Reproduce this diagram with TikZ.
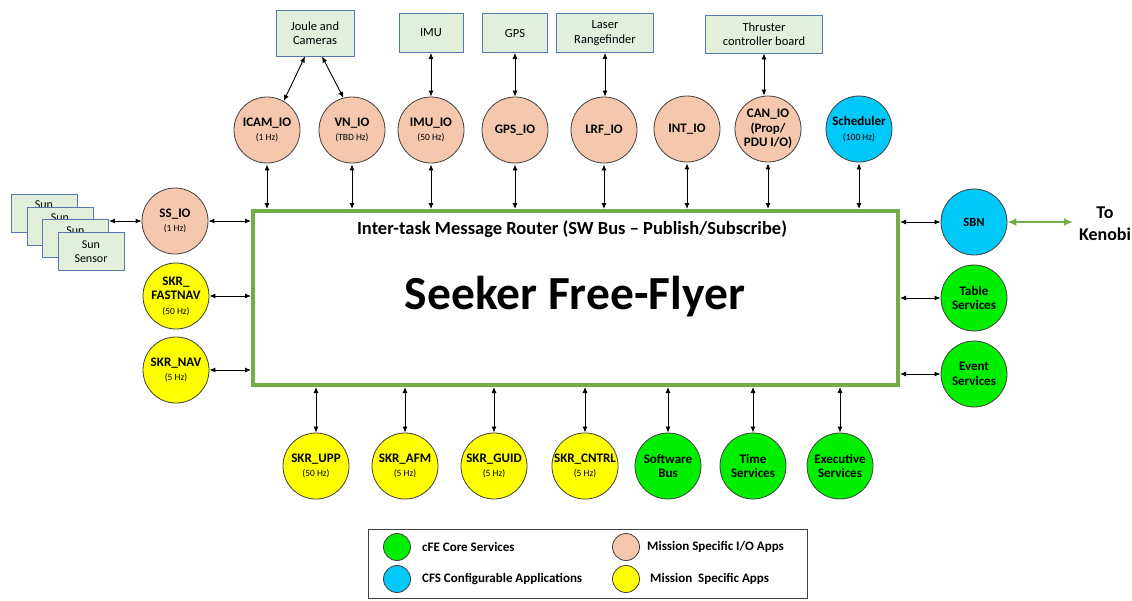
\documentclass[tikz,border=0pt]{standalone}
\usepackage{fontspec}
\setmainfont{Carlito}
\usetikzlibrary{arrows.meta}
\definecolor{peach}{HTML}{F5C8AE}
\definecolor{appyellow}{HTML}{FFFF00}
\definecolor{coregreen}{HTML}{00EE00}
\definecolor{cfsblue}{HTML}{00C8F8}
\definecolor{hwfill}{HTML}{E2EFDA}
\definecolor{hwborder}{HTML}{5479AE}
\definecolor{busgreen}{HTML}{70AD47}
\definecolor{ringgray}{HTML}{404040}
\tikzset{
  app/.style={circle, draw=ringgray, line width=0.8pt, minimum size=66pt, inner sep=0pt, align=center,
    font=\fontsize{13}{14.5}\selectfont\bfseries},
  ioapp/.style={app, fill=peach},
  msapp/.style={app, fill=appyellow},
  coreapp/.style={app, fill=coregreen},
  cfsapp/.style={app, fill=cfsblue},
  hwbox/.style={rectangle, draw=hwborder, fill=hwfill, line width=0.9pt, align=center, inner sep=0pt,
    font=\fontsize{12.5}{14.5}\selectfont},
  sunbox/.style={hwbox, minimum width=66pt, minimum height=38pt, font=\fontsize{12}{14}\selectfont},
  arr/.style={{Latex[length=6pt,width=5pt]}-{Latex[length=6pt,width=5pt]}, line width=0.9pt, black},
  greenarr/.style={{Latex[length=9pt,width=8pt]}-{Latex[length=9pt,width=8pt]}, line width=2.6pt, busgreen},
  legdot/.style={circle, draw=ringgray, line width=0.8pt, minimum size=27pt, inner sep=0pt},
  legtext/.style={anchor=west, font=\fontsize{13}{15}\selectfont\bfseries, inner sep=0pt},
}
\newcommand{\hz}[1]{{\fontsize{9.5}{11}\selectfont\mdseries #1}}
\begin{document}
\begin{tikzpicture}[x=1pt, y=-1pt]
\useasboundingbox (0,0) rectangle (1132,600);

% main box
\node[draw=busgreen, line width=4pt, fill=white, minimum width=645pt, minimum height=174pt, inner sep=0pt] (main) at (575.5,298) {};
\node[font=\fontsize{18.5}{20}\selectfont\bfseries] (ttl) at (572,229) {Inter-task Message Router (SW Bus -- Publish/Subscribe)};
\node[font=\fontsize{47.5}{50}\selectfont\bfseries] (big) at (575,297) {Seeker Free-Flyer};

% hardware boxes
\node[hwbox, minimum width=78pt, minimum height=46pt] (joule) at (315,33) {Joule and\\Cameras};
\node[hwbox, minimum width=64pt, minimum height=39pt] (imu) at (431,33) {IMU};
\node[hwbox, minimum width=65pt, minimum height=39pt] (gps) at (515,33) {GPS};
\node[hwbox, minimum width=97pt, minimum height=39pt] (lrf) at (605,33) {Laser\\Rangefinder};
\node[hwbox, minimum width=117pt, minimum height=38pt] (thr) at (764,34) {Thruster\\controller board};

% sun sensors (stacked, the back ones mostly hidden)
\node[sunbox] (s1) at (44,213) {};
\node[font=\fontsize{12}{14}\selectfont, inner sep=0pt] (s1t) at (44,205) {Sun};
\node[sunbox] (s2) at (60,226) {};
\node[font=\fontsize{12}{14}\selectfont, inner sep=0pt] (s2t) at (60,218) {Sun};
\node[sunbox] (s3) at (75.5,238.5) {};
\node[font=\fontsize{12}{14}\selectfont, inner sep=0pt] (s3t) at (75.5,230.5) {Sun};
\node[sunbox] (s4) at (91,251.5) {Sun\\Sensor};

% top apps
\node[ioapp] (icam) at (267,130) {ICAM\_IO\\\hz{(1 Hz)}};
\node[ioapp] (vn) at (352,130) {VN\_IO\\\hz{(TBD Hz)}};
\node[ioapp] (imuio) at (431,130) {IMU\_IO\\\hz{(50 Hz)}};
\node[ioapp] (gpsio) at (515,130) {GPS\_IO};
\node[ioapp] (lrfio) at (604,130) {LRF\_IO};
\node[ioapp] (intio) at (687,129) {INT\_IO};
\node[ioapp] (canio) at (768,129) {CAN\_IO\\(Prop/\\PDU I/O)};
\node[cfsapp] (sch) at (859,129) {Scheduler\\\hz{(100 Hz)}};

% left apps
\node[ioapp] (ssio) at (175,221) {SS\_IO\\\hz{(1 Hz)}};
\node[msapp] (fnav) at (176,296) {SKR\_\\FASTNAV\\\hz{(50 Hz)}};
\node[msapp] (nav) at (176,370) {SKR\_NAV\\\hz{(5 Hz)}};

% right apps
\node[cfsapp, font=\fontsize{12.5}{14}\selectfont\bfseries] (sbn) at (974,222) {SBN};
\node[coreapp] (tbl) at (974,298) {Table\\Services};
\node[coreapp] (evs) at (974,374) {Event\\Services};
\node[font=\fontsize{18}{22}\selectfont\bfseries, align=center] (ken) at (1105,224) {To\\Kenobi};

% bottom apps
\node[msapp] (upp) at (316,466) {SKR\_UPP\\\hz{(50 Hz)}};
\node[msapp] (afm) at (405,466) {SKR\_AFM\\\hz{(5 Hz)}};
\node[msapp] (guid) at (494,466) {SKR\_GUID\\\hz{(5 Hz)}};
\node[msapp] (cntrl) at (585,466) {SKR\_CNTRL\\\hz{(5 Hz)}};
\node[coreapp] (sb) at (668,466) {Software\\Bus};
\node[coreapp] (tim) at (753,466) {Time\\Services};
\node[coreapp] (exe) at (840,466) {Executive\\Services};

% connectors hardware <-> io apps
\draw[arr] ([xshift=-10pt]joule.south) -- (icam.60);
\draw[arr] ([xshift=7pt]joule.south) -- (vn.105);
\draw[arr] (imu.south) -- (imuio.north);
\draw[arr] (gps.south) -- (gpsio.north);
\draw[arr] (lrf.south) -- (lrf.south |- lrfio.north);
\draw[arr] (thr.south) -- (thr.south |- canio.north);
\draw[arr] (ssio.west) -- (ssio.west -| s3.east);

% connectors to main bus (top)
\foreach \n in {icam,vn,imuio,gpsio,lrfio,intio,canio,sch}
  \draw[arr] ([yshift=-1pt]\n.south) -- (\n.south |- main.north);
% left
\foreach \n in {ssio,fnav,nav}
  \draw[arr] (\n.east) -- (\n.east -| main.west);
% right
\foreach \n in {sbn,tbl,evs}
  \draw[arr] (\n.west) -- (\n.west -| main.east);
% bottom
\foreach \n in {upp,afm,guid,cntrl,sb,tim,exe}
  \draw[arr] (\n.north) -- (\n.north |- main.south);

\coordinate (kenobiend) at (1073,222);
\draw[greenarr] (sbn.east) -- (kenobiend);

% legend
\node[draw=ringgray, line width=1pt, minimum width=439pt, minimum height=69pt, inner sep=0pt] (leg) at (587.5,563.5) {};
\node[legdot, fill=coregreen] (lg1) at (397,547) {};
\node[legdot, fill=cfsblue] (lg2) at (397,579) {};
\node[legdot, fill=peach] (lg3) at (626,547) {};
\node[legdot, fill=appyellow] (lg4) at (626,579) {};
\node[legtext] (lt1) at (422,547) {cFE Core Services};
\node[legtext] (lt2) at (422,579) {CFS Configurable Applications};
\node[legtext] (lt3) at (647,547) {Mission Specific I/O Apps};
\node[legtext] (lt4) at (650,579) {Mission\ \ Specific Apps};
\end{tikzpicture}
\end{document}
